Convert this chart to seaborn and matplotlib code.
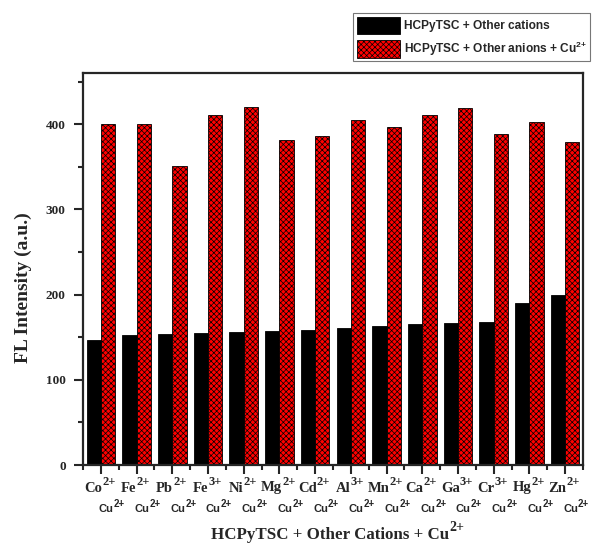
import matplotlib
matplotlib.use("Agg")
import matplotlib.pyplot as plt
from matplotlib.patches import Patch
from matplotlib.ticker import MultipleLocator
import seaborn as sns
import pandas as pd

# ---- data ----
ion_symbols = ["Co", "Fe", "Pb", "Fe", "Ni", "Mg", "Cd", "Al", "Mn", "Ca", "Ga", "Cr", "Hg", "Zn"]
ion_charges = ["2+", "2+", "2+", "3+", "2+", "2+", "2+", "3+", "2+", "2+", "3+", "3+", "2+", "2+"]
ions = [f"{s}{c}" for s, c in zip(ion_symbols, ion_charges)]
second_row = ("Cu", "2+")
series_names = ["HCPyTSC + Other cations", "HCPyTSC + Other anions + Cu$^{2{+}}$"]
cations_only = [147, 152, 154, 155, 156, 157, 159, 161, 163, 165, 167, 168, 190, 200]
with_cu = [400, 400, 351, 411, 420, 381, 386, 405, 397, 411, 419, 389, 402, 379]
ylabel = "FL Intensity (a.u.)"
xlabel = ("HCPyTSC + Other Cations + Cu", "2+")

sns.set_style("ticks")
plt.rcParams["font.family"] = ["Liberation Serif", "DejaVu Serif"]
plt.rcParams["font.weight"] = "bold"
plt.rcParams["mathtext.default"] = "regular"
plt.rcParams["hatch.linewidth"] = 0.5

df = pd.DataFrame({
    "ion": ions * 2,
    "series": [series_names[0]] * len(ions) + [series_names[1]] * len(ions),
    "value": cations_only + with_cu,
})

fig = plt.figure(figsize=(5.92, 5.44), dpi=100)
W, H = 592, 544
ax = fig.add_axes([83 / W, 1 - 465 / H, (583 - 83) / W, (465 - 73) / H])

sns.barplot(data=df, x="ion", y="value", hue="series", palette=["black", "red"],
            width=0.8, saturation=1, edgecolor="black", linewidth=0.6,
            legend=False, ax=ax)
for p in ax.containers[1]:
    p.set_hatch("xxxxxx")

ax.set_xlim(-0.5, len(ions) - 0.5)
ax.set_ylim(0, 460)
ax.yaxis.set_major_locator(MultipleLocator(100))
ax.yaxis.set_minor_locator(MultipleLocator(50))
ax.set_xticks(range(len(ions)))
ax.set_xticks([i + 0.5 for i in range(-1, len(ions))], minor=True)
ax.set_xticklabels([])
ax.set_xlabel("")
ax.set_ylabel("")
for s in ax.spines.values():
    s.set_linewidth(1.6)
    s.set_visible(True)
ax.tick_params(axis="both", which="major", direction="out", width=1.5, length=6.5)
ax.tick_params(axis="both", which="minor", direction="out", width=1.5, length=3.5)
ax.tick_params(axis="y", labelsize=9.5, pad=6)
for t in ax.get_yticklabels():
    t.set_fontweight("bold")

renderer = fig.canvas.get_renderer()


def sup_text(xc, ybase, base, sup, size, supsize, rise, family, gap=0.0):
    """Draw base text plus raised superscript, centred at xc (display px)."""
    tb = fig.text(0, ybase, base, transform=None, fontsize=size, fontweight="bold",
                  family=family, ha="left", va="baseline")
    ts = fig.text(0, ybase + rise, sup, transform=None, fontsize=supsize,
                  fontweight="bold", family=family, ha="left", va="baseline")
    wb = tb.get_window_extent(renderer).width
    ws = ts.get_window_extent(renderer).width
    x0 = xc - (wb + gap + ws) / 2
    tb.set_x(x0)
    ts.set_x(x0 + wb + gap)


for i, (sym, chg) in enumerate(zip(ion_symbols, ion_charges)):
    xc = ax.transData.transform((i, 0))[0]
    sup_text(xc - 1, H - 491.5, sym, chg, 10.5, 9, 6.5, ["Liberation Serif"])
    sup_text(xc + 11, H - 512, second_row[0], second_row[1], 8, 7, 5, ["Liberation Sans"])

fig.text(23 / W, 1 - 288 / H, ylabel, rotation=90, ha="center", va="center",
         fontsize=14, fontweight="bold", family=["Liberation Serif"])
sup_text(338, H - 539, xlabel[0], xlabel[1], 12.2, 10, 8, ["Liberation Serif"])

handles = [Patch(facecolor="black", edgecolor="black", linewidth=0.6),
           Patch(facecolor="red", edgecolor="black", linewidth=0.6, hatch="xxxxxx")]
leg = fig.legend(handles, series_names, loc="upper right",
                 bbox_to_anchor=(590 / W, 1 - 13 / H), bbox_transform=fig.transFigure,
                 borderaxespad=0, fancybox=False, framealpha=1, edgecolor="#777777",
                 prop={"family": "Liberation Sans", "weight": "bold", "size": 8.6},
                 handlelength=3.6, handleheight=1.9, handletextpad=0.3,
                 labelspacing=0.45, borderpad=0.3)
leg.get_frame().set_linewidth(0.8)

fig.savefig("out.png", dpi=100)
